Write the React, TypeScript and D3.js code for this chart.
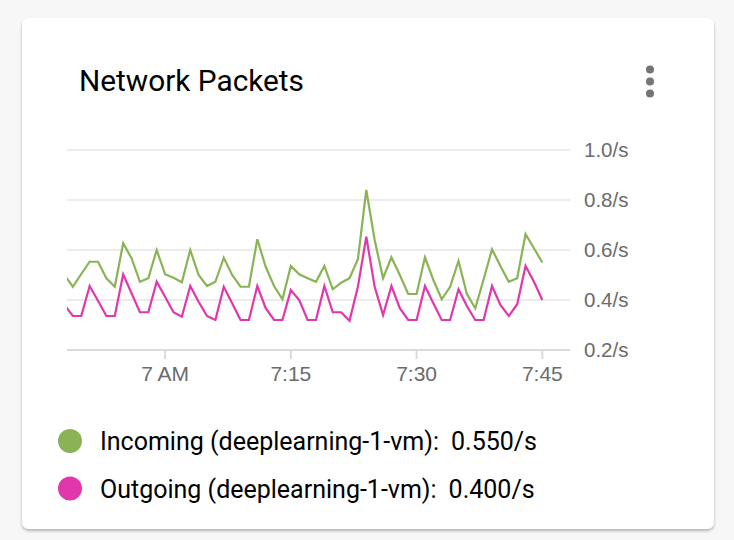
import { useMemo } from 'react';
import * as d3 from 'd3';

// one sample per minute, starting 6:48
const START = new Date(2019, 0, 1, 6, 48);
const INCOMING = [
  0.5, 0.453, 0.504, 0.553, 0.553, 0.487, 0.453, 0.627, 0.567, 0.473,
  0.487, 0.6, 0.503, 0.489, 0.471, 0.6, 0.5, 0.456, 0.473, 0.569,
  0.5, 0.453, 0.453, 0.643, 0.533, 0.456, 0.403, 0.536, 0.503, 0.487,
  0.473, 0.536, 0.443, 0.469, 0.487, 0.563, 0.84, 0.64, 0.487, 0.571,
  0.5, 0.424, 0.424, 0.571, 0.48, 0.403, 0.453, 0.556, 0.424, 0.367,
  0.483, 0.603, 0.536, 0.473, 0.487, 0.664, 0.607, 0.55,
];
const OUTGOING = [
  0.38, 0.336, 0.336, 0.456, 0.397, 0.336, 0.336, 0.503, 0.427, 0.351,
  0.351, 0.473, 0.413, 0.351, 0.333, 0.456, 0.393, 0.336, 0.32, 0.453,
  0.387, 0.32, 0.32, 0.456, 0.367, 0.32, 0.32, 0.44, 0.4, 0.32,
  0.32, 0.456, 0.351, 0.351, 0.317, 0.453, 0.653, 0.453, 0.34, 0.456,
  0.367, 0.32, 0.32, 0.456, 0.387, 0.32, 0.32, 0.443, 0.376, 0.32,
  0.32, 0.456, 0.38, 0.336, 0.383, 0.536, 0.473, 0.4,
];
const Y_TICKS = [0.2, 0.4, 0.6, 0.8, 1.0];
const X_TICKS = ['7:00', '7:15', '7:30', '7:45'];
const X_TICK_LABELS = ['7 AM', '7:15', '7:30', '7:45'];
const SERIES = [
  { name: 'Incoming (deeplearning-1-vm):', value: '0.550/s', color: '#8ab356', data: INCOMING },
  { name: 'Outgoing (deeplearning-1-vm):', value: '0.400/s', color: '#e236ac', data: OUTGOING },
];

const W = 734;
const H = 540;
const plot = { left: 67, right: 570, top: 150, bottom: 350 };

function tickDate(s: string) {
  const [h, m] = s.split(':').map(Number);
  return new Date(2019, 0, 1, h, m);
}

export default function App() {
  const x = useMemo(
    () =>
      d3
        .scaleTime()
        .domain([new Date(2019, 0, 1, 6, 48, 18), new Date(2019, 0, 1, 7, 48, 18)])
        .range([plot.left, plot.right]),
    []
  );
  const y = d3.scaleLinear().domain([0.2, 1.0]).range([plot.bottom, plot.top]);

  const line = d3
    .line<number>()
    .x((_, i) => x(d3.timeMinute.offset(START, i)))
    .y((d) => y(d));

  const axisFont = '"Liberation Sans", Arial, sans-serif';
  const mainFont = 'Roboto, "Noto Sans", sans-serif';

  return (
    <div style={{ position: 'fixed', left: 0, top: 0, width: W, height: H, background: '#f7f7f7' }}>
      <svg width={W} height={H}>
        <defs>
          <filter id="shadow" x="-5%" y="-5%" width="110%" height="115%">
            <feDropShadow dx="0" dy="2" stdDeviation="1.6" floodColor="#000" floodOpacity="0.28" />
          </filter>
          <clipPath id="plotClip">
            <rect x={plot.left} y={0} width={plot.right - plot.left} height={H} />
          </clipPath>
        </defs>

        {/* card */}
        <rect x={22} y={18} width={692} height={511} rx={7} fill="#fff" filter="url(#shadow)" />

        <text x={79} y={91} fontFamily={mainFont} fontSize={29.8} fill="#000">
          Network Packets
        </text>
        {[69.5, 81.5, 93.5].map((cy) => (
          <circle key={cy} cx={650} cy={cy} r={4} fill="#757575" />
        ))}

        {/* gridlines */}
        {Y_TICKS.map((t) => (
          <g key={t}>
            <line
              x1={plot.left}
              x2={plot.right}
              y1={y(t)}
              y2={y(t)}
              stroke={t === 0.2 ? '#dadada' : '#ececec'}
              strokeWidth={2}
            />
            <text
              x={584}
              y={y(t)}
              dy="0.35em"
              fontFamily={axisFont}
              fontSize={20.5}
              fill="#6b6b6b"
            >
              {t.toFixed(1)}/s
            </text>
          </g>
        ))}

        {/* x ticks */}
        {X_TICKS.map((t, i) => {
          const px = x(tickDate(t));
          return (
            <g key={t}>
              <line x1={px} x2={px} y1={plot.bottom} y2={plot.bottom + 9} stroke="#dadada" strokeWidth={2} />
              <text
                x={px}
                y={381}
                textAnchor="middle"
                fontFamily={axisFont}
                fontSize={21}
                fill="#6b6b6b"
              >
                {X_TICK_LABELS[i]}
              </text>
            </g>
          );
        })}

        {/* series */}
        <g clipPath="url(#plotClip)">
          {SERIES.map((s) => (
            <path key={s.name} d={line(s.data) || ''} fill="none" stroke={s.color} strokeWidth={2.2} strokeLinejoin="miter" />
          ))}
        </g>

        {/* legend */}
        {SERIES.map((s, i) => {
          const cy = 441 + i * 47.5;
          return (
            <g key={s.name}>
              <circle cx={70} cy={cy} r={12} fill={s.color} />
              <text x={100} y={cy} dy="0.36em" fontFamily={mainFont} fontSize={25} fill="#000">
                {s.name}
                <tspan dx={12}>{s.value}</tspan>
              </text>
            </g>
          );
        })}
      </svg>
    </div>
  );
}
